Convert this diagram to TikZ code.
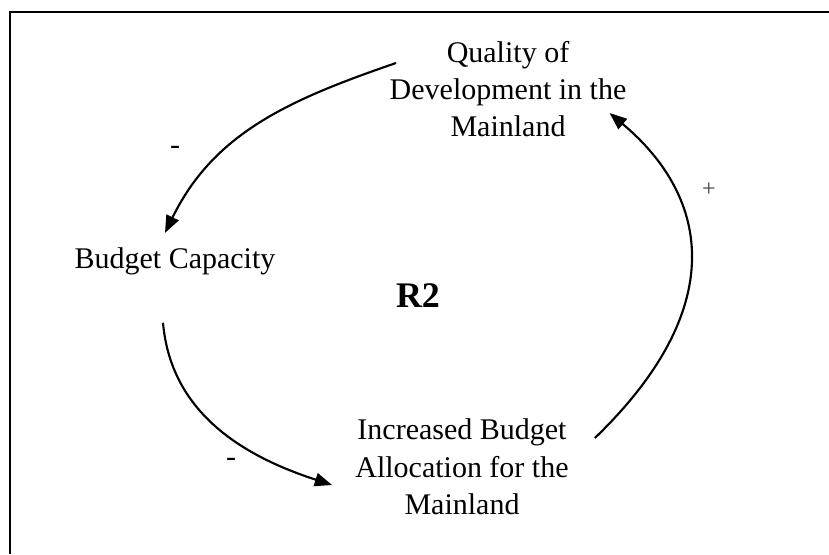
\documentclass[tikz,border=0pt]{standalone}
\usepackage{fontspec}
\setmainfont{Liberation Serif}
\usetikzlibrary{arrows.meta}

\begin{document}
\begin{tikzpicture}[x=0.75pt, y=-0.75pt,
    var/.style={align=center, inner sep=0pt, font=\fontsize{22.5}{28}\selectfont},
    sign/.style={inner sep=0pt, font=\fontsize{22.5}{28}\selectfont},
    link/.style={line width=1.6pt, -{Triangle[length=13pt, width=10pt]}}]
        \useasboundingbox (0, 0) rectangle (829, 554);
        \draw [line width=2.2pt] (829, 12) -- (10, 12) -- (10, 554);
        \node [var] (qual) at (508, 89) {Quality of\\Development in the\\Mainland};
        \node [var, anchor=base] (bud) at (175, 268) {Budget Capacity};
        \node [var] (inc) at (462, 467) {Increased Budget\\Allocation for the\\Mainland};
        \node [anchor=base, inner sep=0pt, font=\fontsize{27}{32}\selectfont\bfseries] (loop) at (418, 307) {R2};
        \draw [link] ([shift={(-112, -26)}]qual.center) to [out=199, in=64] ([shift={(-10, -14)}]bud.north);
        \draw [link] ([shift={(-12, 48)}]bud.south) to [out=-85, in=162] ([shift={(-23, 18)}]inc.west);
        \draw [link] ([shift={(26, -29)}]inc.east) to [out=44, in=-40, out looseness=1.45, in looseness=1.05] ([shift={(-17, 24)}]qual.east);
        \node [sign] (s1) at (175, 150) {-};
        \node [sign] (s2) at (231, 462) {-};
        \node [sign, font=\fontsize{18}{22}\selectfont, text=black!75] (s3) at (709, 190) {+};
\end{tikzpicture}
\end{document}
